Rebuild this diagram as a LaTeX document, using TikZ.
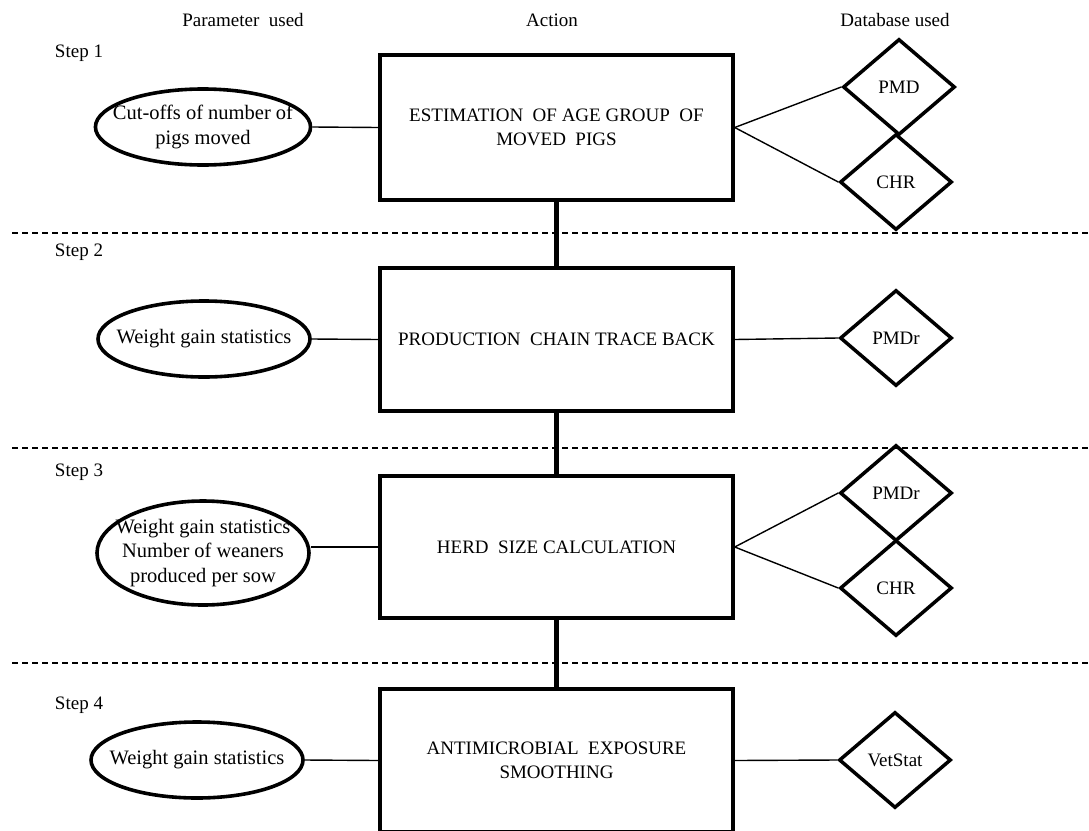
\documentclass[tikz,border=0pt]{standalone}
\usepackage{fontspec}
\setmainfont{Liberation Serif}
\usetikzlibrary{shapes.geometric}

\begin{document}
\begin{tikzpicture}[x=1pt, y=-1pt,
		font=\fontsize{19}{24}\selectfont,
		action/.style={draw, rectangle, line width=3.5pt, minimum width=353pt, align=center, inner sep=0pt},
		param/.style={draw, ellipse, line width=3.6pt, minimum width=212pt, minimum height=76pt, align=center, inner xsep=-14pt, inner ysep=0pt, font=\fontsize{20.5}{24.5}\selectfont},
		dbase/.style={draw, diamond, line width=3.5pt, minimum width=112pt, minimum height=96pt, inner sep=0pt},
		link/.style={line width=1.4pt},
		chain/.style={line width=5pt},
		sep/.style={line width=1.3pt, dash pattern=on 6pt off 4pt}]
		\useasboundingbox (0,0) rectangle (1089,830);
		
		\node (hpar) at (243,20) {Parameter\ \ used};
		\node (hact) at (552,20) {Action};
		\node (hdb) at (895,20) {Database used};
		
		\foreach \y/\n in {
			53/1,
			252/2,
			472/3,
			705/4
		}{
			\node (step\n) at (79,\y) {Step \n};
		}
		\foreach \y in {233, 448, 663}{
			\draw[sep] (12,\y) -- (1089,\y);
		}
		
		\node (act1) [action, minimum height=145pt] at (556.5,127.5) {ESTIMATION\ \ OF AGE GROUP\ \ OF\\MOVED\ \ PIGS};
		\node (act2) [action, minimum height=143pt] at (556.5,339.5) {PRODUCTION\ \ CHAIN TRACE BACK};
		\node (act3) [action, minimum height=142pt] at (556.5,547) {HERD\ \ SIZE CALCULATION};
		\node (act4) [action, minimum height=143pt] at (556.5,760.5) {ANTIMICROBIAL\ \ EXPOSURE\\SMOOTHING};
		
		\node (par1) [param] at (203,127) {Cut-offs of number of\\pigs moved};
		\node (par2) [param] at (204,339) {Weight gain statistics};
		\node (par3) [param, minimum height=104pt] at (203,553) {Weight gain statistics\\Number of weaners\\produced per sow};
		\node (par4) [param] at (197,760) {Weight gain statistics};
		
		\node (db1a) [dbase] at (899,87) {PMD};
		\node (db1b) [dbase] at (896,182) {CHR};
		\node (db2) [dbase] at (896,338) {PMDr};
		\node (db3a) [dbase] at (896,493) {PMDr};
		\node (db3b) [dbase] at (896,588) {CHR};
		\node (db4) [dbase] at (895,760) {VetStat};
		
		\draw[chain] (act1) -- (act2);
		\draw[chain] (act2) -- (act3);
		\draw[chain] (act3) -- (act4);
		
		\draw[link] (par1.east) -- (act1.west);
		\draw[link] (par2.east) -- (act2.west);
		\draw[link] (act3.west -| par3.east) -- (act3.west);
		\draw[link] (par4.east) -- (act4.west);
		
		\draw[link] (act1.east) -- (db1a.west);
		\draw[link] (act1.east) -- (db1b.west);
		\draw[link] (act2.east) -- (db2.west);
		\draw[link] (act3.east) -- (db3a.west);
		\draw[link] (act3.east) -- (db3b.west);
		\draw[link] (act4.east) -- (db4.west);
	\end{tikzpicture}
\end{document}
